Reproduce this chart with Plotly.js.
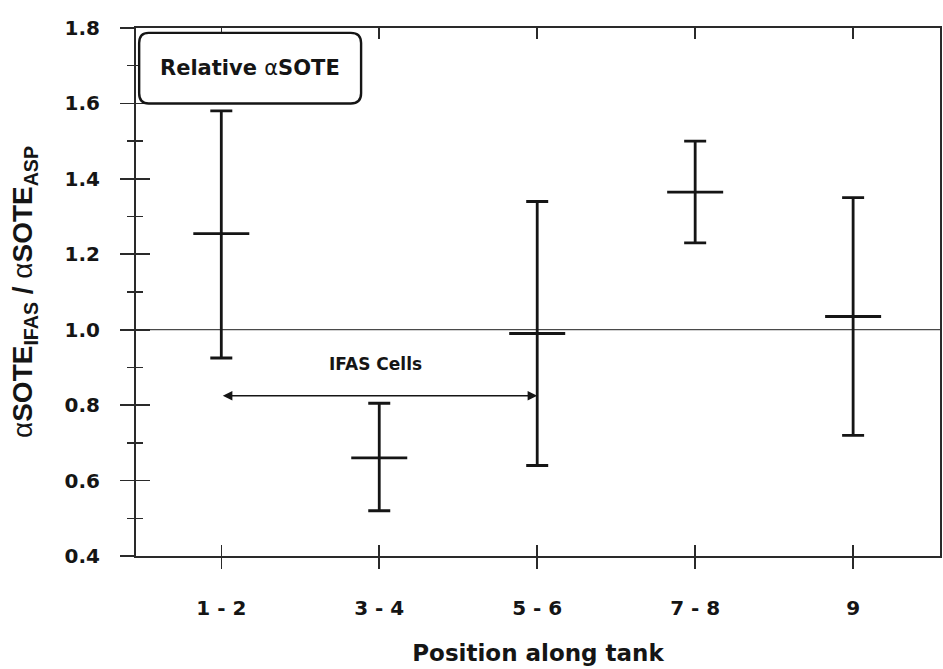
<!DOCTYPE html>
<html>
<head>
<meta charset="utf-8">
<script src="https://cdn.plot.ly/plotly-3.0.1.min.js"></script>
<style>html,body{margin:0;padding:0;background:#fff;}#chart{width:943px;height:669px;}</style>
</head>
<body>
<div id="chart"></div>
<script>
// Data
const positions = ["1 - 2", "3 - 4", "5 - 6", "7 - 8", "9"];
const meanRatio = [1.255, 0.66, 0.99, 1.365, 1.035];
const upperRatio = [1.58, 0.805, 1.34, 1.50, 1.35];
const lowerRatio = [0.925, 0.52, 0.64, 1.23, 0.72];
const yTickVals = [0.4, 0.6, 0.8, 1.0, 1.2, 1.4, 1.6, 1.8];
const yTickText = ["0.4", "0.6", "0.8", "1.0", "1.2", "1.4", "1.6", "1.8"];
const referenceLevel = 1.0;
const ifasSpan = ["1 - 2", "5 - 6"];
const ifasArrowLevel = 0.825;

const ink = "#151515";
const errPlus = upperRatio.map((u, i) => u - meanRatio[i]);
const errMinus = meanRatio.map((m, i) => m - lowerRatio[i]);

const main = {
  type: "scatter", mode: "markers", x: positions, y: meanRatio,
  marker: {symbol: "line-ew", size: 40, color: ink, line: {width: 2.8, color: ink}},
  error_y: {type: "data", symmetric: false, array: errPlus, arrayminus: errMinus,
            color: ink, thickness: 2.8, width: 11},
  hoverinfo: "skip", showlegend: false, xaxis: "x", yaxis: "y"
};
const ghost = {
  type: "scatter", mode: "markers", x: positions, y: meanRatio,
  marker: {opacity: 0}, hoverinfo: "skip", showlegend: false, xaxis: "x2", yaxis: "y2"
};

const tickFont = {family: "DejaVu Sans", size: 20, color: ink, weight: "bold"};
const xr = [-0.54, 4.55];
const yr = [0.4, 1.8];
const axisColor = "#2a2a2a";

const layout = {
  width: 943, height: 669,
  margin: {l: 136, r: 3, t: 28, b: 113},
  paper_bgcolor: "#fff", plot_bgcolor: "rgba(0,0,0,0)",
  showlegend: false,
  xaxis: {
    type: "category", categoryarray: positions, range: xr, fixedrange: true,
    showgrid: false, zeroline: false, showline: true, mirror: true,
    linecolor: axisColor, linewidth: 1.6,
    ticks: "outside", ticklen: 11, tickwidth: 1.6, tickcolor: axisColor,
    tickfont: tickFont, ticklabelstandoff: 22,
    title: {text: "Position along tank", font: {family: "DejaVu Sans", size: 23, color: ink, weight: "bold"}, standoff: 26}
  },
  xaxis2: {
    type: "category", categoryarray: positions, range: xr, overlaying: "x", anchor: "y2",
    showgrid: false, zeroline: false, showline: false, showticklabels: false,
    ticks: "inside", ticklen: 11, tickwidth: 1.6, tickcolor: axisColor, mirror: "ticks"
  },
  yaxis: {
    range: yr, fixedrange: true, tickvals: yTickVals, ticktext: yTickText,
    showgrid: false, zeroline: false, showline: true, mirror: true,
    linecolor: axisColor, linewidth: 2,
    ticks: "outside", ticklen: 14, tickwidth: 1.6, tickcolor: axisColor,
    minor: {dtick: 0.1, tick0: 0.4, ticks: "outside", ticklen: 7, tickwidth: 1.4, tickcolor: axisColor, showgrid: false},
    tickfont: tickFont, ticklabelstandoff: 16,
    title: {text: "<span style='font-weight:normal'>α</span>SOTE<sub>IFAS</sub> / <span style='font-weight:normal'>α</span>SOTE<sub>ASP</sub>",
            font: {family: "Liberation Sans", size: 28, color: ink, weight: "bold"}, standoff: 24}
  },
  yaxis2: {
    range: yr, overlaying: "y", anchor: "x2", side: "left",
    tickmode: "linear", tick0: 0.4, dtick: 0.2, showticklabels: false,
    showgrid: false, zeroline: false, showline: false,
    ticks: "inside", ticklen: 14, tickwidth: 1.6, tickcolor: axisColor,
    minor: {dtick: 0.1, tick0: 0.4, ticks: "inside", ticklen: 7, tickwidth: 1.4, tickcolor: axisColor, showgrid: false}
  },
  shapes: [
    {type: "line", xref: "paper", yref: "y", x0: 0, x1: 1, y0: referenceLevel, y1: referenceLevel,
     line: {color: "#4a4a4a", width: 1.3}, layer: "below"},
    {type: "path", xref: "x", yref: "y",
     path: "M -0.46 1.787 L 0.82 1.787 Q 0.885 1.787 0.885 1.76 L 0.885 1.627 Q 0.885 1.6 0.82 1.6 L -0.46 1.6 Q -0.52 1.6 -0.52 1.627 L -0.52 1.76 Q -0.52 1.787 -0.46 1.787 Z",
     line: {color: ink, width: 2.4}, fillcolor: "#fff", layer: "above"}
  ],
  annotations: [
    {x: 0.18, y: 1.694, xref: "x", yref: "y", showarrow: false,
     text: "Relative <span style='font-weight:normal'>α</span>SOTE",
     font: {family: "DejaVu Sans", size: 21, color: ink, weight: "bold"}},
    {x: ifasSpan[1], y: ifasArrowLevel, xref: "x", yref: "y",
     ax: ifasSpan[0], ay: ifasArrowLevel, axref: "x", ayref: "y",
     text: "", showarrow: true, arrowhead: 2, arrowside: "end+start", arrowsize: 1.2, arrowwidth: 1.6, arrowcolor: ink,
     standoff: 0, startstandoff: 0},
    {x: 0.975, y: 0.91, xref: "x", yref: "y", showarrow: false, text: "IFAS Cells",
     font: {family: "DejaVu Sans", size: 17, color: ink, weight: "bold"}}
  ]
};

Plotly.newPlot("chart", [main, ghost], layout, {staticPlot: true, displayModeBar: false});
</script>
</body>
</html>
